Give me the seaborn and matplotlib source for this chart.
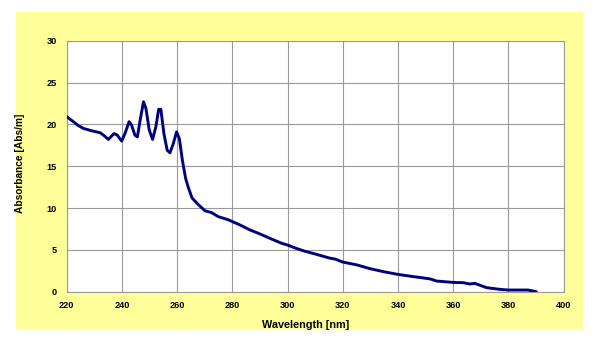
import numpy as np
import pandas as pd
import seaborn as sns
import matplotlib.pyplot as plt
from matplotlib.patches import Rectangle

# spectrum
wavelength = [220.0, 222.4, 224.0, 226.0, 229.0, 232.1, 233.3, 235.1, 237.1, 238.3,
              239.9, 241.1, 242.6, 243.5, 244.7, 245.6, 246.6, 247.8, 248.7, 249.9,
              251.1, 252.3, 253.3, 254.1, 255.2, 256.4, 257.4, 258.6, 259.8, 260.8,
              261.9, 263.1, 264.1, 265.4, 267.7, 270.1, 272.5, 274.9, 278.5, 282.8,
              286.4, 290.0, 293.6, 297.9, 300.0, 302.1, 305.8, 310.6, 315.4, 317.2,
              319.9, 325.1, 329.9, 334.8, 339.9, 345.6, 348.0, 351.7, 354.0, 360.0,
              363.6, 366.0, 367.8, 372.1, 376.9, 379.9, 384.1, 387.1, 390.1]
absorbance = [20.92, 20.32, 19.9, 19.52, 19.24, 19.0, 18.72, 18.2, 18.9, 18.72,
              18.0, 18.9, 20.32, 19.9, 18.72, 18.5, 20.5, 22.7, 21.9, 19.32,
              18.2, 19.72, 21.8, 21.8, 18.9, 16.9, 16.6, 17.7, 19.1, 18.3,
              15.7, 13.5, 12.4, 11.2, 10.4, 9.67, 9.45, 8.97, 8.6, 7.97,
              7.38, 6.9, 6.38, 5.78, 5.58, 5.3, 4.88, 4.45, 4.0, 3.9,
              3.55, 3.2, 2.75, 2.39, 2.07, 1.80, 1.70, 1.52, 1.27, 1.11,
              1.08, 0.92, 1.0, 0.48, 0.28, 0.2, 0.2, 0.2, 0.0]

x_ticks = [220, 240, 260, 280, 300, 320, 340, 360, 380, 400]
y_ticks = [0, 5, 10, 15, 20, 25, 30]

df = pd.DataFrame({'wavelength': wavelength, 'absorbance': absorbance})

sns.set_style('white')
plt.rcParams['font.family'] = ['Liberation Sans', 'DejaVu Sans']

W, H = 597, 345
fig = plt.figure(figsize=(W / 100, H / 100), dpi=100)
fig.patch.set_facecolor('white')

# yellow chart area
fig.patches.append(Rectangle((16 / W, (H - 330) / H), (583 - 16) / W, (330 - 12) / H,
                             transform=fig.transFigure, facecolor='#FFFF99',
                             edgecolor='none', zorder=-10))

ax = fig.add_axes([66.7 / W, (H - 291.7) / H, (563.7 - 66.7) / W, (291.7 - 40.7) / H])
ax.set_zorder(1)
ax.set_facecolor('white')

sns.lineplot(data=df, x='wavelength', y='absorbance', ax=ax, color='#000080',
             linewidth=2.1, zorder=3)

ax.set_xlim(220, 400)
ax.set_ylim(0, 30)
ax.set_xticks(x_ticks)
ax.set_yticks(y_ticks)
ax.grid(True, color='#9a9a9a', linewidth=0.8)
ax.set_axisbelow(True)
for s in ax.spines.values():
    s.set_color('#9a9a9a')
    s.set_linewidth(0.8)

ax.tick_params(axis='both', length=3, width=0.8, color='#808080', direction='out',
               labelsize=6.6, labelcolor='black', pad=4)
for lab in ax.get_xticklabels() + ax.get_yticklabels():
    lab.set_fontweight('bold')

ax.set_xlabel('Wavelength [nm]', fontsize=7.8, fontweight='bold', color='black')
ax.set_ylabel('Absorbance [Abs/m]', fontsize=7.3, fontweight='bold', color='black')
ax.xaxis.set_label_coords((306 - 66.7) / 497, -(320 - 291.7) / 251)
ax.yaxis.set_label_coords(-(66.7 - 25) / 497, (291.7 - 163) / 251)

fig.savefig('out.png', dpi=100)
